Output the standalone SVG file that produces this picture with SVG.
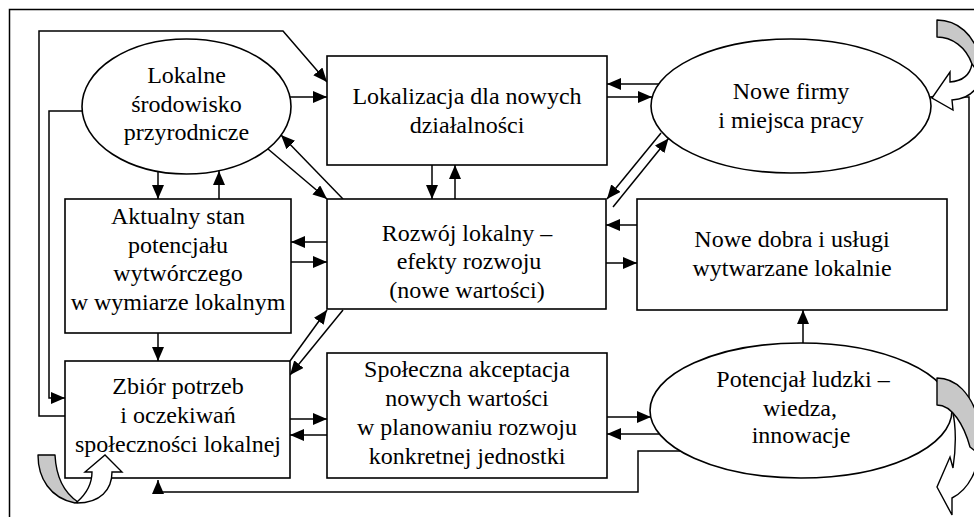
<svg xmlns="http://www.w3.org/2000/svg" width="974" height="517" viewBox="0 0 974 517">
<defs>
<marker id="ah" viewBox="0 0 14 12" refX="14" refY="6" markerWidth="14" markerHeight="12" markerUnits="userSpaceOnUse" orient="auto">
<path d="M0,0 L14,6 L0,12 z" fill="#000"/>
</marker>
<style>
.c{fill:none;stroke:#000;stroke-width:1.5;marker-end:url(#ah)}
.p{fill:none;stroke:#000;stroke-width:1.5}
.n{fill:#fff;stroke:#000;stroke-width:1.6}
.t{font-family:"Liberation Serif","Times New Roman",serif;font-size:24px;fill:#000;text-anchor:middle}
.g{fill:#c8c8c8;stroke:#000;stroke-width:1.4;stroke-linejoin:round}
.w{fill:#fff;stroke:#000;stroke-width:1.4;stroke-linejoin:miter}
</style>
</defs>
<rect width="974" height="517" fill="#fff"/>
<rect x="9.5" y="9.5" width="1000" height="1000" fill="none" stroke="#000" stroke-width="1.5"/>

<g id="connectors">
<polyline class="c" points="65,416 39,416 39,31 283,31 327,82"/>
<polyline class="c" points="84,111 49,111 49,398 65,398"/>
<line class="c" x1="290" y1="97" x2="327" y2="97"/>
<line class="c" x1="660" y1="84" x2="607" y2="84"/>
<line class="c" x1="607" y1="97" x2="652" y2="97"/>
<line class="c" x1="432" y1="165" x2="432" y2="199"/>
<line class="c" x1="455" y1="199" x2="455" y2="165"/>
<line class="c" x1="661" y1="133" x2="607" y2="199"/>
<line class="c" x1="613" y1="207" x2="668.5" y2="138.5"/>
<line class="c" x1="606" y1="263" x2="637" y2="263"/>
<line class="c" x1="637" y1="225" x2="606" y2="225"/>
<line class="c" x1="158" y1="171" x2="158" y2="199"/>
<line class="c" x1="219" y1="199" x2="219" y2="171"/>
<line class="c" x1="327" y1="242" x2="291" y2="242"/>
<line class="c" x1="291" y1="262" x2="327" y2="262"/>
<line class="c" x1="268" y1="149" x2="327" y2="199"/>
<line class="c" x1="343" y1="199" x2="281" y2="135"/>
<line class="c" x1="158" y1="333" x2="158" y2="361"/>
<line class="c" x1="290" y1="361" x2="327" y2="310"/>
<line class="c" x1="343" y1="310" x2="290" y2="375"/>
<line class="c" x1="290" y1="419" x2="327" y2="419"/>
<line class="c" x1="327" y1="435" x2="290" y2="435"/>
<line class="c" x1="607" y1="417" x2="651" y2="417"/>
<line class="c" x1="659" y1="434" x2="607" y2="434"/>
<polyline class="c" points="690,451 638,451 638,492 158,492 158,480"/>
<line class="c" x1="803" y1="344" x2="803" y2="310"/>
<polyline class="c" points="945,405 969,405 969,97 930,97"/>
</g>

<g id="lokalne">
<ellipse class="n" cx="186.5" cy="106.5" rx="104.5" ry="67.5"/>
<text class="t" x="186.5" y="83">Lokalne</text>
<text class="t" x="186.5" y="112">środowisko</text>
<text class="t" x="186.5" y="140">przyrodnicze</text>
</g>

<g id="lokalizacja">
<rect class="n" x="327" y="56" width="280" height="109"/>
<text class="t" x="467" y="104">Lokalizacja dla nowych</text>
<text class="t" x="467" y="133">działalności</text>
</g>

<g id="nowe-firmy">
<ellipse class="n" cx="791" cy="106" rx="140" ry="67"/>
<text class="t" x="791" y="99">Nowe firmy</text>
<text class="t" x="791" y="128">i miejsca pracy</text>
</g>

<g id="aktualny">
<rect class="n" x="65" y="199" width="226" height="134"/>
<text class="t" x="178" y="224">Aktualny stan</text>
<text class="t" x="178" y="252.5">potencjału</text>
<text class="t" x="178" y="281">wytwórczego</text>
<text class="t" x="178" y="309.5">w wymiarze lokalnym</text>
</g>

<g id="rozwoj">
<rect class="n" x="327" y="199" width="279" height="110"/>
<text class="t" x="467" y="241">Rozwój lokalny –</text>
<text class="t" x="469" y="269">efekty rozwoju</text>
<text class="t" x="467" y="297.5">(nowe wartości)</text>
</g>

<g id="nowe-dobra">
<rect class="n" x="637" y="199" width="310" height="111"/>
<text class="t" x="792" y="247">Nowe dobra i usługi</text>
<text class="t" x="792" y="276">wytwarzane lokalnie</text>
</g>

<g id="zbior">
<rect class="n" x="65" y="361" width="225" height="117"/>
<text class="t" x="178" y="394">Zbiór potrzeb</text>
<text class="t" x="178" y="423">i oczekiwań</text>
<text class="t" x="178" y="452">społeczności lokalnej</text>
</g>

<g id="spoleczna">
<rect class="n" x="327" y="353" width="280" height="125"/>
<text class="t" x="467" y="377">Społeczna akceptacja</text>
<text class="t" x="467" y="406">nowych wartości</text>
<text class="t" x="467" y="435">w planowaniu rozwoju</text>
<text class="t" x="467" y="464">konkretnej jednostki</text>
</g>

<g id="potencjal">
<ellipse class="n" cx="801" cy="410.5" rx="151" ry="67.5"/>
<text class="t" x="803" y="387">Potencjał ludzki –</text>
<text class="t" x="800" y="415.5">wiedza,</text>
<text class="t" x="801" y="443">innowacje</text>
</g>

<g id="loops">
<path class="w" d="M972,64 C970,75 963,81 950,82 L950,72 L932,98 L953,110 L952,100 C966,99 976,92 980,80 L980,60 Z"/>
<path class="g" d="M937,20 C958,20 974,35 980,58 L980,75 L972,64 C966,47 952,37 937,37 Z"/>
<path class="w" d="M952,408 C956,425 956,448 953,468 L950,457 L937,487 L952,515 L952,498 C968,490 980,470 980,440 L980,420 L962,412 Z"/>
<path class="g" d="M937,378 C955,378 972,392 980,425 L980,455 L970,447 C964,425 952,405 937,405 Z"/>
<path class="g" d="M38,455 C38,478 50,498 75,503 L78,502 C63,492 56,475 55,455 Z"/>
<path class="w" d="M77,502 C85,495 92,485 92,472 L85,472 L105,455 L122,472 L112,472 C112,490 100,503 77,503 Z"/>
</g>
</svg>
